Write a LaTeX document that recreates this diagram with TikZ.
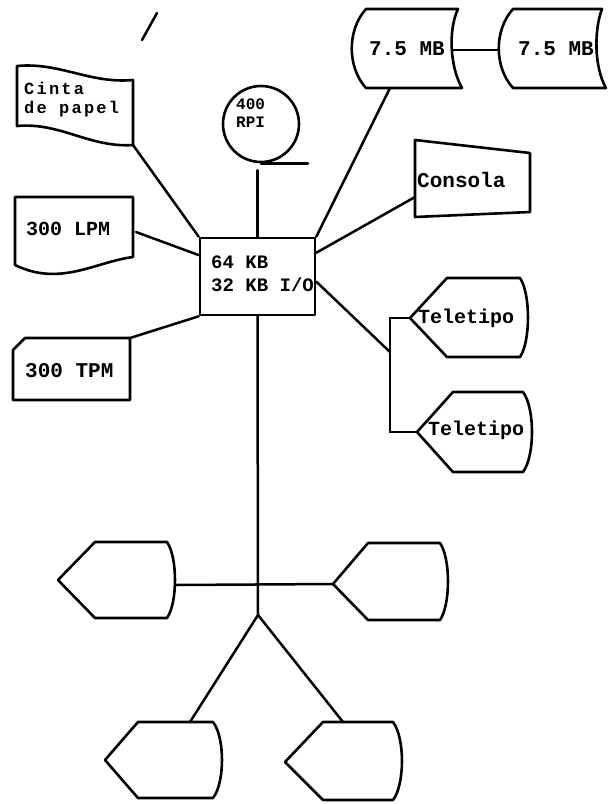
\documentclass[tikz,border=0pt]{standalone}
\usepackage{fontspec}
\setmonofont{Liberation Mono}
\begin{document}
\begin{tikzpicture}[x=1pt,y=-1pt,
  shp/.style={draw, line width=2.6pt, line join=round, line cap=round},
  wire/.style={draw, line width=2.5pt, line cap=round},
  txt/.style={font=\ttfamily\bfseries\fontsize{#1}{#1}\selectfont, inner sep=0pt, anchor=base west},
  txt/.default=20,
  stack/.style 2 args={font=\ttfamily\bfseries\fontsize{#1}{#2}\selectfont, inner sep=0pt,
    align=left, anchor=north west}]

% display symbol: pointed left end, rounded right end
% #1 name, #2/#3 left point, #4 top-left x, #5 top-right x, #6 top y, #7 bottom y, #8 bulge
\newcommand\dispshape[8]{%
  \draw[shp] (#2,#3) -- (#4,#6) -- (#5,#6)
    .. controls ({#5+1.33*#8},{#6+0.2*(#7-#6)}) and ({#5+1.33*#8},{#7-0.2*(#7-#6)}) .. (#5,#7)
    -- (#4,#7) -- cycle;
  \coordinate (#1-w) at (#2,#3);}

\useasboundingbox (0,0) rectangle (608,804);
\fill[white] (0,0) rectangle (608,804);

% stray pen stroke
\draw[wire] (142,40) -- (157,13);

% central processor
\node[shp, minimum width=115pt, minimum height=77pt, inner sep=0pt] (cpu) at (257.5,276.5) {};
\node[txt=19] (mem) at (211,268) {64 KB};
\node[txt=19] (io) at (211,291) {32 KB I/O};

% paper tape
\draw[shp] (17,66) .. controls (60,62) and (90,84) .. (133,80) -- (133,145)
  .. controls (90,148) and (60,122) .. (17,126) -- cycle;
\coordinate (tape-se) at (133,145);
\node[stack={17}{19}] (tape) at (24,82)
  {\addfontfeatures{LetterSpace=13}Cinta\\\addfontfeatures{LetterSpace=13}de papel};

% drum
\node[shp, circle, minimum size=76pt, inner sep=0pt] (rpi) at (261,124) {};
\node[stack={16}{18}] (rpit) at (236,99) {400\\RPI};
\draw[wire] (rpi.south) -- ++(47,0);
\draw[wire, shorten >=7pt] (cpu.north) -- (cpu.north |- rpi.south);

% line printer
\draw[shp] (15,197) -- (133,197) -- (133,257)
  .. controls (95,262) and (60,287) .. (15,265) -- cycle;
\coordinate (lpm-e) at (136,232);
\node[txt=20] (lpm) at (26,235) {300 LPM};

% card reader
\draw[shp] (13,350) -- (25,338) -- (130,338) -- (130,400) -- (13,400) -- cycle;
\coordinate (tpm-ne) at (130,338);
\node[txt=21] (tpm) at (25,377) {300 TPM};

% disk units
\draw[shp] (366,9) -- (458,9) .. controls (448,30) and (450,67) .. (462,88)
  -- (366,88) .. controls (347,67) and (347,30) .. (366,9) -- cycle;
\coordinate (d1-e) at (453,50);
\coordinate (d1-s) at (390,88);
\node[txt=21] (disk1) at (369,55) {7.5 MB};
\draw[shp] (513,9) -- (602,9) .. controls (594,30) and (594,67) .. (606,88)
  -- (513,88) .. controls (494,67) and (494,30) .. (513,9) -- cycle;
\coordinate (d2-w) at (499,50);
\node[txt=21] (disk2) at (518,55) {7.5 MB};

% console
\draw[shp] (415,140) -- (530,153) -- (530,212) -- (415,217) -- cycle;
\coordinate (con-w) at (415,197);
\node[txt=21] (con) at (417,187) {Consola};

% teletypes
\dispshape{tt1}{410}{318}{447}{520}{278}{357}{8}
\node[txt=20] (tt1t) at (418,323) {Teletipo};
\dispshape{tt2}{417}{432}{453}{523}{392}{472}{9}
\node[txt=20] (tt2t) at (428,435) {Teletipo};
\coordinate (br-top) at (390,318);
\coordinate (br-mid) at (390,352);
\coordinate (br-bot) at (390,432);

% remote displays
\dispshape{dA}{58}{580}{95}{167}{542}{618}{8}
\dispshape{dB}{333}{584}{368}{440}{543}{620}{8}
\dispshape{dC}{105}{760}{138}{213}{722}{798}{9}
\dispshape{dD}{285}{762}{323}{393}{722}{800}{9}
\coordinate (dA-e) at (175,585);
\coordinate (dC-n) at (190,722);
\coordinate (dD-n) at (343,722);
\coordinate (hub) at (258,615);

% connections
\draw[wire] (d1-e) -- (d2-w);
\draw[wire] (d1-s) -- (cpu.north east);
\draw[wire] (tape-se) -- (cpu.north west);
\draw[wire] (lpm-e) -- (cpu.160);
\draw[wire] (tpm-ne) -- (cpu.south west);
\draw[wire] (con-w) -- (cpu.22);
\draw[wire] (cpu.-5) -- (br-mid);
\draw[wire] (br-top) -- (br-bot);
\draw[wire] (br-top) -- (tt1-w);
\draw[wire] (br-bot) -- (tt2-w);
\draw[wire] (cpu.south) -- (hub);
\draw[wire] (dA-e) -- (dB-w);
\draw[wire] (hub) -- (dC-n);
\draw[wire] (hub) -- (dD-n);
\end{tikzpicture}
\end{document}
